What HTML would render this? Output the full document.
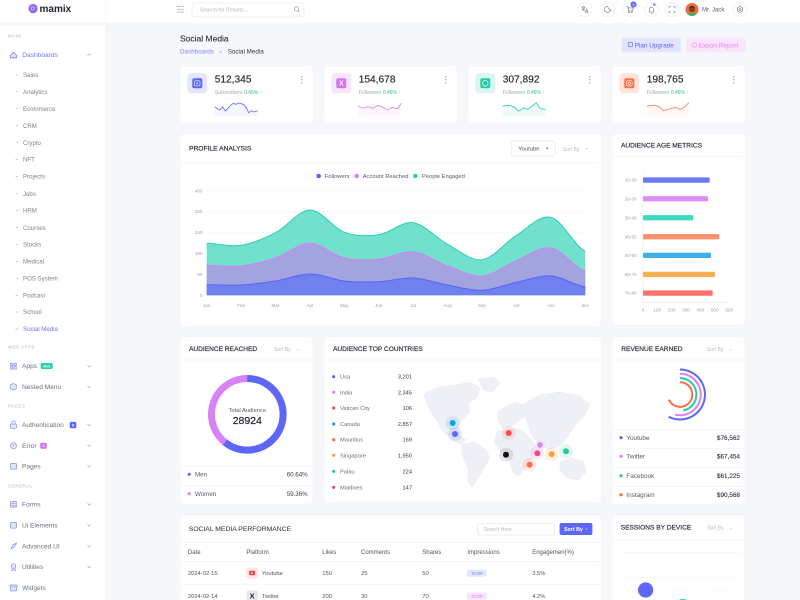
<!DOCTYPE html>
<html><head><meta charset="utf-8">
<style>
html,body{margin:0;padding:0;width:800px;height:600px;overflow:hidden;background:#f6f7fb}
svg{display:block}
text{font-family:"Liberation Sans",sans-serif}
.side{font-size:6.6px;fill:#6c7185}
.sub{font-size:6.1px;fill:#7d8294}
.sec{font-size:4.5px;fill:#b3b6c3;letter-spacing:0.45px}
.ttl{font-size:6.7px;fill:#2f3040;stroke:#2f3040;stroke-width:0.18px}
.sm{font-size:5.8px;fill:#555a68}
.ax{font-size:4.6px;fill:#9a9eab}
.sort{font-size:5.1px;fill:#b7bac5}
.num{font-size:10.2px;fill:#23242f;stroke:#23242f;stroke-width:0.15px}
</style></head>
<body>
<svg width="800" height="600" viewBox="0 0 800 600" xmlns="http://www.w3.org/2000/svg">
<defs>
<linearGradient id="lg" x1="0" y1="0" x2="1" y2="1"><stop offset="0" stop-color="#c06cf5"/><stop offset="1" stop-color="#5c67f7"/></linearGradient>
<clipPath id="av"><circle cx="692" cy="9.5" r="6.5"/></clipPath>
</defs>
<rect width="800" height="600" fill="#f6f7fb"/>

<!-- Sidebar -->
<rect x="0" y="0" width="106" height="600" fill="#fff"/>
<line x1="106" y1="0" x2="106" y2="600" stroke="#eeeff3" stroke-width="0.8"/>
<!-- Header -->
<rect x="106" y="0" width="694" height="24" fill="#fff"/>
<line x1="0" y1="24" x2="800" y2="24" stroke="#eeeff3" stroke-width="0.8"/>

<!-- Logo -->
<circle cx="33" cy="8.5" r="4.6" fill="url(#lg)"/>
<circle cx="33" cy="8.5" r="1.6" fill="none" stroke="#fff" stroke-width="0.6" opacity="0.8"/>
<text x="39.5" y="12" style="font-size:10px;font-weight:700;fill:#23242f">mamix</text>

<!-- Sidebar menu -->
<text class="sec" x="8" y="37.6">MAIN</text>
<path d="M10.4,55.4 L13.5,52.2 L16.6,55.4 V57.8 H10.4Z" fill="#e4e6fd" stroke="#7a80f2" stroke-width="0.8"/>
<text class="side" x="22.3" y="57" style="fill:#6e75f3">Dashboards</text>
<path d="M87.5,55.6 l1.6,-1.6 l1.6,1.6" stroke="#8f94f0" stroke-width="0.6" fill="none"/>

<g stroke="#a7abb8" stroke-width="0.6">
<line x1="15.5" y1="75" x2="18" y2="75"/><line x1="15.5" y1="91.7" x2="18" y2="91.7"/>
<line x1="15.5" y1="108.7" x2="18" y2="108.7"/><line x1="15.5" y1="125.7" x2="18" y2="125.7"/>
<line x1="15.5" y1="142.7" x2="18" y2="142.7"/><line x1="15.5" y1="159.3" x2="18" y2="159.3"/>
<line x1="15.5" y1="176.5" x2="18" y2="176.5"/><line x1="15.5" y1="193.7" x2="18" y2="193.7"/>
<line x1="15.5" y1="210.3" x2="18" y2="210.3"/><line x1="15.5" y1="227.7" x2="18" y2="227.7"/>
<line x1="15.5" y1="244.3" x2="18" y2="244.3"/><line x1="15.5" y1="261.3" x2="18" y2="261.3"/>
<line x1="15.5" y1="278.3" x2="18" y2="278.3"/><line x1="15.5" y1="295.3" x2="18" y2="295.3"/>
<line x1="15.5" y1="312" x2="18" y2="312"/><line x1="15.5" y1="329" x2="18" y2="329" stroke="#8f94f0"/>
</g>
<text class="sub" x="23" y="77.1">Sales</text>
<text class="sub" x="23" y="93.8">Analytics</text>
<text class="sub" x="23" y="110.8">Ecommerce</text>
<text class="sub" x="23" y="127.8">CRM</text>
<text class="sub" x="23" y="144.8">Crypto</text>
<text class="sub" x="23" y="161.4">NFT</text>
<text class="sub" x="23" y="178.6">Projects</text>
<text class="sub" x="23" y="195.8">Jobs</text>
<text class="sub" x="23" y="212.4">HRM</text>
<text class="sub" x="23" y="229.8">Courses</text>
<text class="sub" x="23" y="246.4">Stocks</text>
<text class="sub" x="23" y="263.4">Medical</text>
<text class="sub" x="23" y="280.4">POS System</text>
<text class="sub" x="23" y="297.4">Podcast</text>
<text class="sub" x="23" y="314.1">School</text>
<text class="sub" x="23" y="331.1" style="fill:#6e75f3">Social Media</text>

<text class="sec" x="8" y="348.3">WEB APPS</text>
<g fill="#e4e6fd" stroke="#8a90ef" stroke-width="0.7">
<rect x="10.4" y="363.2" width="2.5" height="2.5" rx="0.5"/><rect x="13.9" y="363.2" width="2.5" height="2.5" rx="0.5"/>
<rect x="10.4" y="366.6" width="2.5" height="2.5" rx="0.5"/><rect x="13.9" y="366.6" width="2.5" height="2.5" rx="0.5"/>
<path d="M13.4,383.4 l3,1.7 v3.4 l-3,1.7 l-3,-1.7 v-3.4z"/>
<rect x="10.5" y="424" width="6" height="4.3" rx="0.8"/><path d="M11.8,424 v-1.3 a1.7,1.7 0 0,1 3.4,0 v1.3" fill="none"/>
<circle cx="13.5" cy="445.7" r="3"/>
<rect x="10.4" y="463.5" width="6.2" height="5.6" rx="0.8"/>
<rect x="10.4" y="501.5" width="6.2" height="5.6" rx="0.8"/>
<rect x="10.4" y="522.5" width="6.2" height="5.6" rx="0.8"/>
<path d="M11,549 l1.5,-4 l4,-2 l-2,4z"/>
<circle cx="13.5" cy="566" r="2.3"/><path d="M12.2,568 l-0.6,2.6 l1.9,-0.9 l1.9,0.9 l-0.6,-2.6" fill="none"/>
<rect x="10.4" y="586.5" width="6.2" height="4.4" rx="0.6"/><rect x="10" y="585" width="7" height="1.8" rx="0.4"/>
</g>
<g stroke="#8a90ef" stroke-width="0.6"><line x1="13.5" y1="444.2" x2="13.5" y2="446.2"/><line x1="11.5" y1="503.5" x2="15.5" y2="503.5"/><line x1="11.5" y1="505.3" x2="15.5" y2="505.3"/></g>

<text class="side" x="22" y="368.2">Apps</text>
<rect x="40.7" y="363" width="12" height="6" rx="1.5" fill="#26d3a8"/>
<text x="46.7" y="367.4" text-anchor="middle" style="font-size:4px;font-weight:700;fill:#fff">Hot</text>
<text class="side" x="22" y="388.9">Nested Menu</text>
<text class="sec" x="8" y="407.6">PAGES</text>
<text class="side" x="22" y="427.2">Authentication</text>
<rect x="69.7" y="421.9" width="6.6" height="6.3" rx="1.3" fill="#5c67f7"/>
<text x="73" y="426.6" text-anchor="middle" style="font-size:4px;font-weight:700;fill:#fff">8</text>
<text class="side" x="22" y="447.9">Error</text>
<rect x="40.3" y="442.7" width="6.4" height="6" rx="1.3" fill="#d26cf0"/>
<text x="43.5" y="447.2" text-anchor="middle" style="font-size:4px;font-weight:700;fill:#fff">3</text>
<text class="side" x="22" y="468.5">Pages</text>
<text class="sec" x="8" y="487.3">GENERAL</text>
<text class="side" x="22" y="506.5">Forms</text>
<text class="side" x="22" y="527.5">Ui Elements</text>
<text class="side" x="22" y="548.5">Advanced UI</text>
<text class="side" x="22" y="569.2">Utilities</text>
<text class="side" x="22" y="590.2">Widgets</text>
<g stroke="#9a9eab" stroke-width="0.6" fill="none">
<path d="M87.5,365.2 l1.6,1.6 l1.6,-1.6"/><path d="M87.5,385.9 l1.6,1.6 l1.6,-1.6"/>
<path d="M87.5,424.2 l1.6,1.6 l1.6,-1.6"/><path d="M87.5,444.9 l1.6,1.6 l1.6,-1.6"/>
<path d="M87.5,465.5 l1.6,1.6 l1.6,-1.6"/><path d="M87.5,503.5 l1.6,1.6 l1.6,-1.6"/>
<path d="M87.5,524.5 l1.6,1.6 l1.6,-1.6"/><path d="M87.5,545.5 l1.6,1.6 l1.6,-1.6"/>
<path d="M87.5,566.2 l1.6,1.6 l1.6,-1.6"/>
</g>

<!-- Header contents -->
<g stroke="#b0b4c0" stroke-width="0.8"><line x1="177" y1="6.5" x2="184" y2="6.5"/><line x1="177" y1="9.3" x2="184" y2="9.3"/><line x1="177" y1="12.1" x2="184" y2="12.1"/></g>
<rect x="192" y="3" width="112" height="14" rx="3" fill="#fff" stroke="#e9ebf0" stroke-width="0.7"/>
<text x="200" y="11.6" style="font-size:5.3px;fill:#b5b8c2">Search for Results...</text>
<circle cx="296.5" cy="9" r="2.2" fill="none" stroke="#8a8e9a" stroke-width="0.6"/><line x1="298" y1="10.6" x2="299.4" y2="12" stroke="#8a8e9a" stroke-width="0.6"/>

<g fill="#fff" stroke="#eceef3" stroke-width="0.7">
<circle cx="585" cy="9.5" r="7"/><circle cx="608" cy="9.5" r="7"/><circle cx="630" cy="9.5" r="7"/>
<circle cx="651.5" cy="9.5" r="7"/><circle cx="672" cy="9.5" r="7"/><circle cx="740" cy="9.5" r="7"/>
</g>
<g stroke="#6f7383" stroke-width="0.6" fill="none" stroke-linecap="round">
<path d="M581.5,7 h3.6 M583.3,6 v1 M582,7 q1,2.6 2.8,3.6 M584.8,7 q-0.6,2.4 -2.9,3.6 M585.3,13 l1.4,-3.8 l1.4,3.8 M585.8,11.9 h1.8"/>
<path d="M606,11.8 a2.8,2.8 0 0,0 4.6,-2.4 a2.6,2.6 0 0,1 -2.7,-2.9 a2.8,2.8 0 0,0 -1.9,5.3z"/>
<path d="M626.6,6.6 h1.1 l1,4.3 h3.9 l0.8,-3 h-5.2"/><circle cx="629" cy="12.2" r="0.45"/><circle cx="632" cy="12.2" r="0.45"/>
<path d="M649,12 h5 M649.6,12 v-2.9 a1.9,1.9 0 0,1 3.8,0 v2.9 M651,13.2 h1"/>
<path d="M669,8 v-1.3 h1.3 M673.7,6.7 h1.3 v1.3 M675,11 v1.3 h-1.3 M670.3,12.3 h-1.3 v-1.3"/>
<circle cx="740" cy="9.5" r="2.8"/><circle cx="740" cy="9.5" r="1"/>
</g>
<circle cx="633.5" cy="4.5" r="3" fill="#5c67f7"/>
<text x="633.5" y="5.9" text-anchor="middle" style="font-size:3.8px;fill:#fff">5</text>
<circle cx="654.3" cy="4.6" r="1.3" fill="#d26cf0"/>
<circle cx="692" cy="9.5" r="6.5" fill="#f26b3a"/>
<g clip-path="url(#av)"><ellipse cx="692" cy="17" rx="5" ry="4" fill="#2fb86a"/><circle cx="692" cy="9.2" r="3" fill="#7a4322"/><path d="M688.8,8.2 q3.2,-4.6 6.4,0 q-3.2,-2 -6.4,0z" fill="#222"/></g>
<text x="702" y="11.6" style="font-size:6px;fill:#5a5e6b">Mr. Jack</text>

<!-- Page title -->
<text x="180" y="41.7" style="font-size:8.5px;fill:#2b2c3a;stroke:#2b2c3a;stroke-width:0.12px">Social Media</text>
<text x="180" y="53.7" style="font-size:6.3px;fill:#7c84f2">Dashboards</text>
<text x="219" y="53.5" style="font-size:5.5px;fill:#9a9eab">»</text>
<text x="227.7" y="53.7" style="font-size:6.3px;fill:#33343f">Social Media</text>

<rect x="621.7" y="37.7" width="59" height="14.6" rx="2.5" fill="#e2e3fc"/>
<rect x="628.2" y="42.4" width="4.4" height="4.4" rx="0.6" fill="none" stroke="#5c67f7" stroke-width="0.6"/>
<text x="634.7" y="47.3" style="font-size:6.4px;fill:#5c67f7">Plan Upgrade</text>
<rect x="686" y="37.5" width="59.6" height="14.8" rx="2.5" fill="#fbe5fc"/>
<circle cx="694.3" cy="45" r="2.2" fill="none" stroke="#e481f5" stroke-width="0.6"/>
<text x="698.7" y="47.3" style="font-size:6.4px;fill:#e481f5">Export Report</text>

<!-- Stat cards -->
<g fill="#fff"><rect x="180.5" y="67" width="132.5" height="55.3" rx="4"/><rect x="324.5" y="67" width="132.5" height="55.3" rx="4"/><rect x="468.5" y="67" width="132.5" height="55.3" rx="4"/><rect x="612.5" y="67" width="132.5" height="55.3" rx="4"/></g>

<rect x="187.3" y="73.3" width="20" height="20" rx="4" fill="#e4e6fd"/><rect x="192.3" y="78.3" width="10" height="10" rx="2" fill="#5c67f7"/><rect x="194.6" y="80.8" width="5.4" height="5" rx="1" fill="none" stroke="#fff" stroke-width="0.6"/><path d="M196.6,82.2 v2.2 l1.7,-1.1z" fill="#fff"/>
<rect x="331.3" y="73.3" width="20" height="20" rx="4" fill="#f7e5fd"/><rect x="336.3" y="78.3" width="10" height="10" rx="2" fill="#d573f0"/><text x="341.3" y="85.7" text-anchor="middle" style="font-size:7px;font-weight:700;fill:#fff">X</text>
<rect x="475.3" y="73.3" width="20" height="20" rx="4" fill="#d9f7f0"/><rect x="480.3" y="78.3" width="10" height="10" rx="2" fill="#26c9a8"/><circle cx="485.3" cy="83.3" r="2.8" fill="none" stroke="#fff" stroke-width="0.7"/>
<rect x="619.3" y="73.3" width="20" height="20" rx="4" fill="#ffe4dc"/><rect x="624.3" y="78.3" width="10" height="10" rx="2" fill="#ff6f45"/><rect x="626.5" y="80.5" width="5.6" height="5.6" rx="1.5" fill="none" stroke="#fff" stroke-width="0.6"/><circle cx="629.3" cy="83.3" r="1.2" fill="none" stroke="#fff" stroke-width="0.6"/>

<text class="num" x="214.7" y="82.7">512,345</text>
<text class="num" x="358.7" y="82.7">154,678</text>
<text class="num" x="502.7" y="82.7">307,892</text>
<text class="num" x="646.7" y="82.7">198,765</text>
<g style="font-size:5.3px">
<text x="214.7" y="94.2" fill="#a3a7b3">Subscribers <tspan fill="#26bf94" font-size="5px">0.45% ↑</tspan></text>
<text x="358.7" y="94.2" fill="#a3a7b3">Followers <tspan fill="#26bf94" font-size="5px">0.45% ↑</tspan></text>
<text x="502.7" y="94.2" fill="#a3a7b3">Followers <tspan fill="#26bf94" font-size="5px">0.45% ↑</tspan></text>
<text x="646.7" y="94.2" fill="#a3a7b3">Followers <tspan fill="#26bf94" font-size="5px">0.45% ↑</tspan></text>
</g>
<g fill="#9a9eab"><circle cx="301.7" cy="76.7" r="0.75"/><circle cx="301.7" cy="79.7" r="0.75"/><circle cx="301.7" cy="82.7" r="0.75"/>
<circle cx="445.7" cy="76.7" r="0.75"/><circle cx="445.7" cy="79.7" r="0.75"/><circle cx="445.7" cy="82.7" r="0.75"/>
<circle cx="589.7" cy="76.7" r="0.75"/><circle cx="589.7" cy="79.7" r="0.75"/><circle cx="589.7" cy="82.7" r="0.75"/>
<circle cx="733.7" cy="76.7" r="0.75"/><circle cx="733.7" cy="79.7" r="0.75"/><circle cx="733.7" cy="82.7" r="0.75"/></g>

<!-- sparklines -->
<polygon points="214.7,106.7 217.3,108.7 220,110 222.7,106.7 225.3,111 228,108.3 230.7,105.3 233.3,103.3 236,104.3 238.7,103 241.3,103.7 244,104.7 246.7,108.3 248.7,112.7 251.3,110.7 254,112 257.7,110.7 257.7,116 214.7,116" fill="#5c67f7" opacity="0.06"/>
<polyline points="214.7,106.7 217.3,108.7 220,110 222.7,106.7 225.3,111 228,108.3 230.7,105.3 233.3,103.3 236,104.3 238.7,103 241.3,103.7 244,104.7 246.7,108.3 248.7,112.7 251.3,110.7 254,112 257.7,110.7" fill="none" stroke="#6b76f5" stroke-width="0.9" stroke-linejoin="round"/>
<polygon points="358,106 362.8,108 367.6,106.7 372.8,108.3 378,105.3 382.9,107.3 387.7,110 392.5,107.3 397.3,108.7 401.3,103.3 401.3,116 358,116" fill="#d573f0" opacity="0.06"/>
<polyline points="358,106 362.8,108 367.6,106.7 372.8,108.3 378,105.3 382.9,107.3 387.7,110 392.5,107.3 397.3,108.7 401.3,103.3" fill="none" stroke="#d88cf3" stroke-width="0.9" stroke-linejoin="round"/>
<polygon points="502.5,106 509.4,105.3 514.6,107.3 518.6,111.3 523.4,108 527.4,109.3 531.4,106.7 536.3,102.7 540.3,108.7 545.5,109.3 545.5,116 502.5,116" fill="#26c9a8" opacity="0.07"/>
<polyline points="502.5,106 509.4,105.3 514.6,107.3 518.6,111.3 523.4,108 527.4,109.3 531.4,106.7 536.3,102.7 540.3,108.7 545.5,109.3" fill="none" stroke="#34d3b3" stroke-width="0.9" stroke-linejoin="round"/>
<polygon points="647.1,106 655.1,105.3 659.2,106.7 663.2,110.7 670,108.7 675.2,107.3 680,109.3 684,107.3 688.9,102.7 688.9,116 647.1,116" fill="#ff6f45" opacity="0.06"/>
<polyline points="647.1,106 655.1,105.3 659.2,106.7 663.2,110.7 670,108.7 675.2,107.3 680,109.3 684,107.3 688.9,102.7" fill="none" stroke="#ff8a66" stroke-width="0.9" stroke-linejoin="round"/>

<!-- Profile analysis -->
<rect x="180.5" y="134" width="420.5" height="191.5" rx="4" fill="#fff"/>
<line x1="180.5" y1="163.2" x2="601" y2="163.2" stroke="#f0f1f5" stroke-width="0.7"/>
<text class="ttl" x="189" y="150.4">PROFILE ANALYSIS</text>
<rect x="511.3" y="141" width="44" height="15" rx="2.5" fill="#fff" stroke="#e6e8ee" stroke-width="0.7"/>
<text x="518.3" y="150.6" style="font-size:5.8px;fill:#4a4e5c">Youtube</text>
<path d="M545.8,147.7 h2.8 l-1.4,1.6z" fill="#555a68"/>
<text class="sort" x="562.7" y="150.9">Sort By</text>
<path d="M585.5,148.3 h2.4 l-1.2,1.4z" fill="#b7bac5"/>

<circle cx="318.7" cy="176" r="2.3" fill="#5c67f7"/><text class="sm" x="324.7" y="178">Followers</text>
<circle cx="356.7" cy="176" r="2.3" fill="#d782f7"/><text class="sm" x="362.7" y="178">Account Reached</text>
<circle cx="415.3" cy="176" r="2.3" fill="#26d3b5"/><text class="sm" x="422" y="178">People Engaged</text>

<g stroke="#e8e9ee" stroke-width="0.6" stroke-dasharray="2 2">
<line x1="206.7" y1="190.7" x2="585.3" y2="190.7"/><line x1="206.7" y1="211.6" x2="585.3" y2="211.6"/>
<line x1="206.7" y1="232.5" x2="585.3" y2="232.5"/><line x1="206.7" y1="253.4" x2="585.3" y2="253.4"/>
<line x1="206.7" y1="274.4" x2="585.3" y2="274.4"/>
</g>
<g class="ax" text-anchor="end">
<text class="ax" x="202.5" y="192.3">400</text><text class="ax" x="202.5" y="213.2">320</text>
<text class="ax" x="202.5" y="234.1">240</text><text class="ax" x="202.5" y="255">160</text>
<text class="ax" x="202.5" y="276">80</text><text class="ax" x="202.5" y="296.9">0</text>
</g>

<path d="M206.7,243.3 C218.2,243.63 229.6,247.07 241.1,245.3 S264.0,238.58 275.5,232.7 S298.5,210.07 310.0,210.0 S332.9,228.18 344.4,232.3 S367.3,236.3 378.8,234.7 S401.7,221.1 413.2,222.7 S436.1,238.13 447.6,244.3 S470.6,261.2 482.1,259.7 S505.0,242.37 516.5,235.3 S539.4,214.63 550.9,217.3 S573.8,245.63 585.3,251.3 L585.3,295.3 L206.7,295.3Z" fill="#71e1ce"/>
<path d="M206.7,265.3 C218.2,265.42 229.6,267.22 241.1,266.0 S264.0,261.78 275.5,258.0 S298.5,243.3 310.0,243.3 S332.9,255.33 344.4,258.0 S367.3,260.3 378.8,259.3 S401.7,250.88 413.2,252.0 S436.1,262.0 447.6,266.0 S470.6,276.88 482.1,276.0 S505.0,265.37 516.5,260.7 S539.4,246.28 550.9,248.0 S573.8,267.17 585.3,271.0 L585.3,295.3 L206.7,295.3Z" fill="#a3a3df"/>
<path d="M206.7,284.7 C218.2,284.75 229.6,285.62 241.1,285.0 S264.0,282.83 275.5,281.0 S298.5,274.0 310.0,274.0 S332.9,279.72 344.4,281.0 S367.3,282.2 378.8,281.7 S401.7,277.45 413.2,278.0 S436.1,282.95 447.6,285.0 S470.6,290.75 482.1,290.3 S505.0,284.68 516.5,282.3 S539.4,275.22 550.9,276.0 S573.8,285.17 585.3,287.0 L585.3,295.3 L206.7,295.3Z" fill="#7081ef"/>
<path d="M206.7,243.3 C218.2,243.63 229.6,247.07 241.1,245.3 S264.0,238.58 275.5,232.7 S298.5,210.07 310.0,210.0 S332.9,228.18 344.4,232.3 S367.3,236.3 378.8,234.7 S401.7,221.1 413.2,222.7 S436.1,238.13 447.6,244.3 S470.6,261.2 482.1,259.7 S505.0,242.37 516.5,235.3 S539.4,214.63 550.9,217.3 S573.8,245.63 585.3,251.3" fill="none" stroke="#2ccfb2" stroke-width="1"/>
<path d="M206.7,265.3 C218.2,265.42 229.6,267.22 241.1,266.0 S264.0,261.78 275.5,258.0 S298.5,243.3 310.0,243.3 S332.9,255.33 344.4,258.0 S367.3,260.3 378.8,259.3 S401.7,250.88 413.2,252.0 S436.1,262.0 447.6,266.0 S470.6,276.88 482.1,276.0 S505.0,265.37 516.5,260.7 S539.4,246.28 550.9,248.0 S573.8,267.17 585.3,271.0" fill="none" stroke="#d77cf5" stroke-width="1"/>
<path d="M206.7,284.7 C218.2,284.75 229.6,285.62 241.1,285.0 S264.0,282.83 275.5,281.0 S298.5,274.0 310.0,274.0 S332.9,279.72 344.4,281.0 S367.3,282.2 378.8,281.7 S401.7,277.45 413.2,278.0 S436.1,282.95 447.6,285.0 S470.6,290.75 482.1,290.3 S505.0,284.68 516.5,282.3 S539.4,275.22 550.9,276.0 S573.8,285.17 585.3,287.0" fill="none" stroke="#5466f3" stroke-width="1"/>
<g class="ax" text-anchor="middle">
<text class="ax" x="206.7" y="307">Jan</text><text class="ax" x="241.1" y="307">Feb</text><text class="ax" x="275.5" y="307">Mar</text>
<text class="ax" x="310" y="307">Apr</text><text class="ax" x="344.4" y="307">May</text><text class="ax" x="378.8" y="307">Jun</text>
<text class="ax" x="413.2" y="307">Jul</text><text class="ax" x="447.6" y="307">Aug</text><text class="ax" x="482.1" y="307">sep</text>
<text class="ax" x="516.5" y="307">oct</text><text class="ax" x="550.9" y="307">nov</text><text class="ax" x="585.3" y="307">dec</text>
</g>

<!-- Audience age metrics -->
<rect x="612.7" y="134" width="132.3" height="190.5" rx="4" fill="#fff"/>
<line x1="612.7" y1="156.7" x2="745" y2="156.7" stroke="#f0f1f5" stroke-width="0.7"/>
<text class="ttl" x="621" y="147.7" style="font-size:6.6px">AUDIENCE AGE METRICS</text>
<line x1="643" y1="171" x2="643" y2="302.7" stroke="#eceef2" stroke-width="0.6"/>
<line x1="643" y1="302.7" x2="729.3" y2="302.7" stroke="#e6e8ee" stroke-width="0.6"/>
<rect x="643" y="177.4" width="66.7" height="5.3" rx="1" fill="#6b77f5"/>
<rect x="643" y="196.1" width="65" height="5.3" rx="1" fill="#dc8ef6"/>
<rect x="643" y="215.1" width="50.3" height="5.3" rx="1" fill="#3cdbbd"/>
<rect x="643" y="234.1" width="76.3" height="5.3" rx="1" fill="#ff8f6d"/>
<rect x="643" y="252.7" width="68" height="5.3" rx="1" fill="#3bafe9"/>
<rect x="643" y="271.7" width="72" height="5.3" rx="1" fill="#f7ae52"/>
<rect x="643" y="290.4" width="69.7" height="5.3" rx="1" fill="#ff7171"/>
<g text-anchor="middle">
<text class="ax" x="630.7" y="181.6">10-20</text><text class="ax" x="630.7" y="200.3">20-30</text>
<text class="ax" x="630.7" y="219.3">30-40</text><text class="ax" x="630.7" y="238.3">40-50</text>
<text class="ax" x="630.7" y="256.9">50-60</text><text class="ax" x="630.7" y="275.9">60-70</text>
<text class="ax" x="630.7" y="294.6">70-80</text>
<text class="ax" x="643" y="311.6">0</text><text class="ax" x="657.3" y="311.6">100</text><text class="ax" x="671.7" y="311.6">200</text>
<text class="ax" x="686" y="311.6">300</text><text class="ax" x="700.3" y="311.6">400</text><text class="ax" x="714.7" y="311.6">500</text>
<text class="ax" x="729.3" y="311.6">600</text>
</g>

<!-- Audience reached -->
<rect x="180.7" y="337.7" width="132" height="166" rx="4" fill="#fff"/>
<line x1="180.7" y1="360" x2="312.7" y2="360" stroke="#f0f1f5" stroke-width="0.7"/>
<text class="ttl" x="189" y="351.1" style="font-size:6.6px">AUDIENCE REACHED</text>
<text class="sort" x="274" y="351.1">Sort By</text>
<path d="M296.8,349.3 l1.1,1.1 l1.1,-1.1" stroke="#b7bac5" stroke-width="0.5" fill="none"/>
<circle cx="247.3" cy="414.3" r="35.8" fill="none" stroke="#d782f7" stroke-width="7"/>
<circle cx="247.3" cy="414.3" r="35.8" fill="none" stroke="#5c67f7" stroke-width="7" stroke-dasharray="136.4 300" transform="rotate(-90 247.3 414.3)"/>
<text x="247.3" y="412" text-anchor="middle" style="font-size:5.8px;fill:#555a68">Total Audience</text>
<text x="247.3" y="424.2" text-anchor="middle" style="font-size:10.5px;fill:#23242f;stroke:#23242f;stroke-width:0.2px">28924</text>
<line x1="180.7" y1="466.7" x2="312.7" y2="466.7" stroke="#f0f1f5" stroke-width="0.7"/>
<line x1="180.7" y1="485.7" x2="312.7" y2="485.7" stroke="#f0f1f5" stroke-width="0.7"/>
<circle cx="189.2" cy="474.3" r="1.6" fill="#5c67f7"/>
<text x="195" y="476.5" style="font-size:6.2px;fill:#555a68">Men</text>
<text x="307.7" y="476.5" text-anchor="end" style="font-size:6.2px;fill:#3a3b48">60.64%</text>
<circle cx="189.2" cy="493.7" r="1.6" fill="#d782f7"/>
<text x="195" y="495.9" style="font-size:6.2px;fill:#555a68">Women</text>
<text x="307.7" y="495.9" text-anchor="end" style="font-size:6.2px;fill:#3a3b48">59.36%</text>

<!-- Audience top countries -->
<rect x="324.7" y="337.7" width="276.3" height="164" rx="4" fill="#fff"/>
<line x1="324.7" y1="360" x2="601" y2="360" stroke="#f0f1f5" stroke-width="0.7"/>
<text class="ttl" x="333" y="351.1" style="font-size:6.6px">AUDIENCE TOP COUNTRIES</text>
<g style="font-size:5.7px">
<circle cx="333.7" cy="376.7" r="1.6" fill="#5c67f7"/><text x="340" y="378.7" fill="#6b6f7d">Usa</text><text x="412" y="378.7" text-anchor="end" fill="#3a3b48">3,201</text>
<circle cx="333.7" cy="392.3" r="1.6" fill="#d782f7"/><text x="340" y="394.3" fill="#6b6f7d">India</text><text x="412" y="394.3" text-anchor="end" fill="#3a3b48">2,345</text>
<circle cx="333.7" cy="408" r="1.6" fill="#ff4a4a"/><text x="340" y="410" fill="#6b6f7d">Vatican City</text><text x="412" y="410" text-anchor="end" fill="#3a3b48">106</text>
<circle cx="333.7" cy="424" r="1.6" fill="#0ea5e9"/><text x="340" y="426" fill="#6b6f7d">Canada</text><text x="412" y="426" text-anchor="end" fill="#3a3b48">2,857</text>
<circle cx="333.7" cy="439.7" r="1.6" fill="#ff6d45"/><text x="340" y="441.7" fill="#6b6f7d">Mauritius</text><text x="412" y="441.7" text-anchor="end" fill="#3a3b48">169</text>
<circle cx="333.7" cy="455.3" r="1.6" fill="#f7a03c"/><text x="340" y="457.3" fill="#6b6f7d">Singapore</text><text x="412" y="457.3" text-anchor="end" fill="#3a3b48">1,950</text>
<circle cx="333.7" cy="471.3" r="1.6" fill="#1fcf9f"/><text x="340" y="473.3" fill="#6b6f7d">Palau</text><text x="412" y="473.3" text-anchor="end" fill="#3a3b48">224</text>
<circle cx="333.7" cy="487.3" r="1.6" fill="#f0468c"/><text x="340" y="489.3" fill="#6b6f7d">Maldives</text><text x="412" y="489.3" text-anchor="end" fill="#3a3b48">147</text>
</g>
<g fill="#eef0f6" stroke="#e4e7ef" stroke-width="0.4">
<polygon points="424,394 438,387 456,385 470,382 480,388 476,398 468,404 470,412 462,420 458,428 460,436 466,440 460,444 452,440 444,432 436,420 430,410 426,402"/>
<polygon points="478,379 494,377 500,383 492,392 484,390"/>
<polygon points="462,444 474,442 486,450 490,458 484,468 478,478 472,487 468,482 468,468 462,456"/>
<polygon points="498,412 506,406 516,402 526,406 528,414 520,420 512,426 502,428 498,420"/>
<polygon points="497,432 510,428 522,430 530,438 536,446 532,458 526,468 518,476 512,470 508,456 500,450 494,442"/>
<polygon points="524,404 540,395 560,392 580,396 590,405 584,416 576,424 568,436 560,446 548,450 538,444 530,432 526,420"/>
<polygon points="560,462 572,458 584,462 586,472 578,480 566,478 560,470"/>
</g>
<circle cx="452.7" cy="423" r="7" fill="#0ea5e9" opacity="0.13"/><circle cx="452.7" cy="423" r="3" fill="#0ea5e9"/>
<circle cx="455" cy="434" r="7" fill="#5c67f7" opacity="0.13"/><circle cx="455" cy="434" r="3" fill="#5c67f7"/>
<circle cx="508.7" cy="433" r="7" fill="#ff4a4a" opacity="0.12"/><circle cx="508.7" cy="433" r="3" fill="#ff4a4a"/>
<circle cx="506" cy="454.7" r="7" fill="#333" opacity="0.12"/><circle cx="506" cy="454.7" r="3" fill="#111"/>
<circle cx="540" cy="445" r="5" fill="#d782f7" opacity="0.13"/><circle cx="540" cy="445" r="2.7" fill="#d782f7"/>
<circle cx="537.3" cy="453.3" r="7" fill="#f0468c" opacity="0.12"/><circle cx="537.3" cy="453.3" r="3" fill="#f0468c"/>
<circle cx="551.7" cy="454.3" r="7" fill="#f7a03c" opacity="0.12"/><circle cx="551.7" cy="454.3" r="3" fill="#f7a03c"/>
<circle cx="566" cy="451.3" r="7" fill="#1fcf9f" opacity="0.13"/><circle cx="566" cy="451.3" r="3" fill="#1fcf9f"/>
<circle cx="529.7" cy="464.7" r="7" fill="#ff6d45" opacity="0.12"/><circle cx="529.7" cy="464.7" r="3" fill="#ff6d45"/>

<!-- Revenue earned -->
<rect x="612.7" y="337.7" width="132" height="166.6" rx="4" fill="#fff"/>
<line x1="612.7" y1="360" x2="744.7" y2="360" stroke="#f0f1f5" stroke-width="0.7"/>
<text class="ttl" x="621.3" y="351.1" style="font-size:6.6px">REVENUE EARNED</text>
<text class="sort" x="706.7" y="351.1">Sort By</text>
<path d="M729.5,349.3 l1.1,1.1 l1.1,-1.1" stroke="#b7bac5" stroke-width="0.5" fill="none"/>
<g fill="none" stroke-width="2" stroke-linecap="butt">
<path d="M680,369.5 A25,25 0 1,1 668.65,416.78" stroke="#5c67f7"/>
<path d="M680,373.8 A20.7,20.7 0 1,1 674.99,414.58" stroke="#d782f7"/>
<path d="M680,378.1 A16.4,16.4 0 0,1 683.41,410.54" stroke="#1fcf9f"/>
<path d="M680,382.2 A12.3,12.3 0 1,1 668.86,399.7" stroke="#ff6d45"/>
</g>
<g stroke="#f0f1f5" stroke-width="0.7"><line x1="612.7" y1="429.3" x2="744.7" y2="429.3"/><line x1="612.7" y1="448.3" x2="744.7" y2="448.3"/><line x1="612.7" y1="467.3" x2="744.7" y2="467.3"/><line x1="612.7" y1="486.3" x2="744.7" y2="486.3"/></g>
<g style="font-size:6.4px">
<circle cx="621" cy="437.7" r="1.6" fill="#5c67f7"/><text x="626.3" y="439.9" fill="#555a68">Youtube</text><text x="740" y="439.9" text-anchor="end" fill="#2f3040" stroke="#2f3040" stroke-width="0.12">$76,562</text>
<circle cx="621" cy="456.3" r="1.6" fill="#d782f7"/><text x="626.3" y="458.5" fill="#555a68">Twitter</text><text x="740" y="458.5" text-anchor="end" fill="#2f3040" stroke="#2f3040" stroke-width="0.12">$67,454</text>
<circle cx="621" cy="475.7" r="1.6" fill="#1fcf9f"/><text x="626.3" y="477.9" fill="#555a68">Facebook</text><text x="740" y="477.9" text-anchor="end" fill="#2f3040" stroke="#2f3040" stroke-width="0.12">$61,225</text>
<circle cx="621" cy="494.7" r="1.6" fill="#ff6d45"/><text x="626.3" y="496.9" fill="#555a68">Instagram</text><text x="740" y="496.9" text-anchor="end" fill="#2f3040" stroke="#2f3040" stroke-width="0.12">$90,568</text>
</g>

<!-- Social media performance -->
<rect x="180.8" y="516" width="420.2" height="100" rx="4" fill="#fff"/>
<text class="ttl" x="188.7" y="531" style="font-size:6.8px;stroke-width:0.05px;fill:#3a3b4a">SOCIAL MEDIA PERFORMANCE</text>
<rect x="477.6" y="523.3" width="77" height="11.7" rx="2" fill="#fff" stroke="#e6e8ee" stroke-width="0.7"/>
<text x="483.5" y="531" style="font-size:5px;fill:#b8bbc5">Search Here</text>
<rect x="559.6" y="523" width="32.8" height="12" rx="2" fill="#5c67f7"/>
<text x="564" y="531" style="font-size:5.3px;font-weight:700;fill:#fff">Sort By</text>
<path d="M585.3,528.4 l1.1,1.1 l1.1,-1.1" stroke="#fff" stroke-width="0.5" fill="none"/>
<line x1="180.8" y1="542.3" x2="601" y2="542.3" stroke="#f0f1f5" stroke-width="0.7"/>
<g style="font-size:6px" fill="#50545f">
<text x="187.9" y="553.8">Date</text><text x="246.4" y="553.8">Platform</text><text x="322.3" y="553.8">Likes</text>
<text x="361" y="553.8">Comments</text><text x="422.3" y="553.8">Shares</text><text x="467.4" y="553.8">Impressions</text>
<text x="532.2" y="553.8">Engagemen(%)</text>
</g>
<line x1="180.8" y1="561.7" x2="601" y2="561.7" stroke="#f0f1f5" stroke-width="0.7"/>
<line x1="180.8" y1="584.3" x2="601" y2="584.3" stroke="#f0f1f5" stroke-width="0.7"/>
<g style="font-size:5.8px" fill="#50545f">
<text x="187.9" y="575.1">2024-02-15</text>
<text x="261.8" y="575.1">Youtube</text><text x="322.3" y="575.1">150</text><text x="361" y="575.1">25</text>
<text x="422.3" y="575.1">50</text><text x="532.2" y="575.1">3.5%</text>
<text x="187.9" y="598.1">2024-02-14</text>
<text x="261.8" y="598.1">Twitter</text><text x="322.3" y="598.1">200</text><text x="361" y="598.1">30</text>
<text x="422.3" y="598.1">70</text><text x="532.2" y="598.1">4.2%</text>
</g>
<rect x="246.4" y="567.5" width="11.5" height="11" rx="2" fill="#fde3e3"/>
<rect x="249.2" y="570.7" width="6" height="4.6" rx="1.2" fill="#ef4444"/><path d="M251.5,571.8 v2.4 l1.8,-1.2z" fill="#fff"/>
<rect x="246.4" y="590.5" width="11.5" height="11" rx="2" fill="#e8e8ec"/>
<text x="252.15" y="598.6" text-anchor="middle" style="font-size:7.5px;font-weight:700;fill:#222">X</text>
<rect x="467" y="569.7" width="19.7" height="7" rx="1.5" fill="#e3e5fd"/>
<text x="476.85" y="574.5" text-anchor="middle" style="font-size:3.7px;fill:#6b74f5">10,000</text>
<rect x="467" y="592.7" width="19.7" height="7" rx="1.5" fill="#f7e4fc"/>
<text x="476.85" y="597.5" text-anchor="middle" style="font-size:3.7px;fill:#d56ff0">15,000</text>

<!-- Sessions by device -->
<rect x="612.8" y="516" width="131.6" height="100" rx="4" fill="#fff"/>
<line x1="612.8" y1="540" x2="744.4" y2="540" stroke="#f0f1f5" stroke-width="0.7"/>
<text class="ttl" x="620.7" y="529.6" style="font-size:6.6px">SESSIONS BY DEVICE</text>
<text class="sort" x="707" y="529.6">Sort By</text>
<path d="M729.6,527.8 l1.1,1.1 l1.1,-1.1" stroke="#b7bac5" stroke-width="0.5" fill="none"/>
<g stroke="#e3e5ea" stroke-width="0.6" stroke-dasharray="1 1.5">
<line x1="622" y1="552.7" x2="741" y2="552.7"/><line x1="622" y1="565" x2="741" y2="565"/>
<line x1="622" y1="577.3" x2="741" y2="577.3"/><line x1="622" y1="590" x2="741" y2="590"/>
</g>
<circle cx="645.6" cy="590" r="7.6" fill="#5c67f7"/>
<circle cx="683" cy="607.5" r="8.5" fill="#26d3a8"/>
</svg>
</body></html>
